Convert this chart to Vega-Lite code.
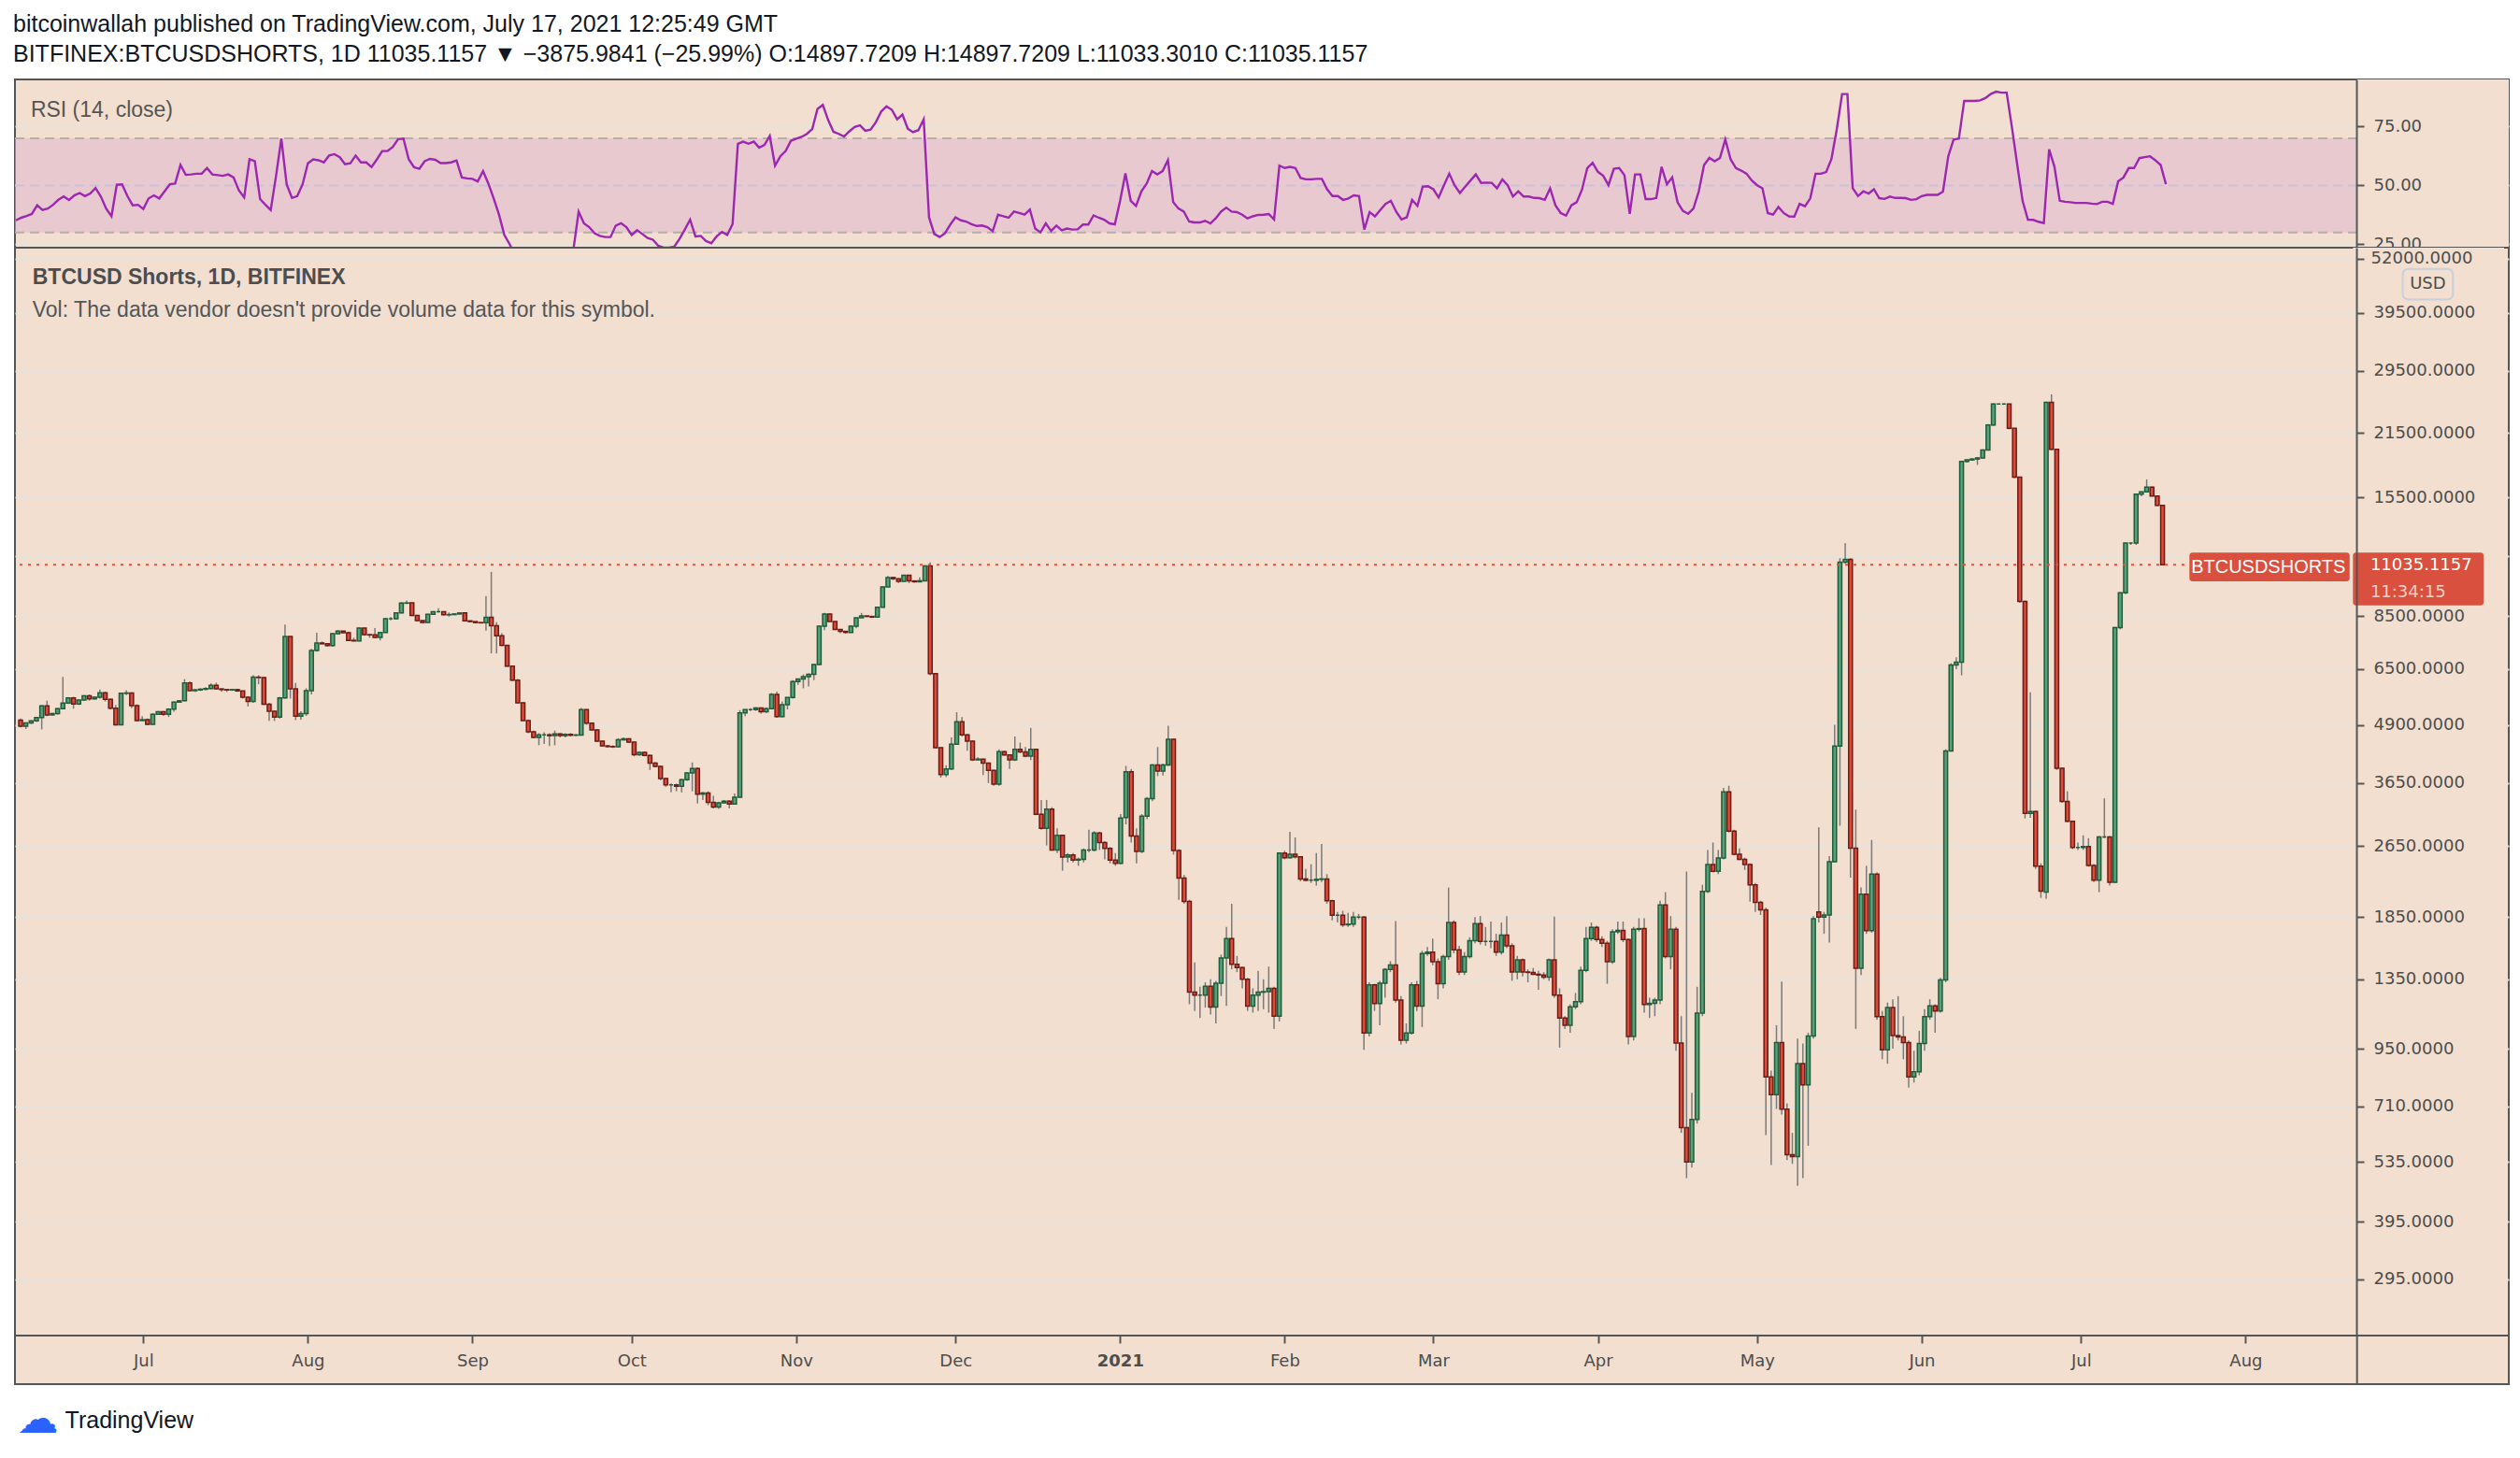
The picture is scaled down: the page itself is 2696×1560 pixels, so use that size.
{
"$schema": "https://vega.github.io/schema/vega-lite/v6.json",
"background": "#ffffff",
"padding": {"left": 14, "top": 14, "right": 0, "bottom": 0},
"bounds": "flush",
"spacing": 0,
"title": {"text": "bitcoinwallah published on TradingView.com, July 17, 2021 12:25:49 GMT", "subtitle": "BITFINEX:BTCUSDSHORTS, 1D  11035.1157 ▼ −3875.9841 (−25.99%)  O:14897.7209  H:14897.7209  L:11033.3010  C:11035.1157", "anchor": "start", "offset": 13, "font": "Liberation Sans", "fontSize": 25, "fontWeight": "normal", "color": "#131722", "subtitleFont": "Liberation Sans", "subtitleFontSize": 25, "subtitleColor": "#131722", "subtitlePadding": 7},
"config": {"view": {"fill": "#f2dfcf", "stroke": "#555555", "strokeWidth": 2}},
"datasets": {"c": [
{"d":"2020-06-07","o":5020,"h":5060,"l":4840,"c":4870,"r":35.2},
{"d":"2020-06-08","o":4870,"h":4960,"l":4800,"c":4947,"r":36.3},
{"d":"2020-06-09","o":4947,"h":5010,"l":4920,"c":5000,"r":37},
{"d":"2020-06-10","o":5000,"h":5100,"l":4970,"c":5088,"r":37.9},
{"d":"2020-06-11","o":5088,"h":5420,"l":4790,"c":5398,"r":41.6},
{"d":"2020-06-12","o":5398,"h":5540,"l":5120,"c":5155,"r":39.6},
{"d":"2020-06-13","o":5155,"h":5210,"l":5130,"c":5190,"r":40.2},
{"d":"2020-06-14","o":5190,"h":5340,"l":5160,"c":5320,"r":41.8},
{"d":"2020-06-15","o":5320,"h":6250,"l":5300,"c":5475,"r":43.9},
{"d":"2020-06-16","o":5475,"h":5640,"l":5450,"c":5615,"r":45.3},
{"d":"2020-06-17","o":5615,"h":5650,"l":5320,"c":5450,"r":43.8},
{"d":"2020-06-18","o":5450,"h":5580,"l":5420,"c":5560,"r":45.8},
{"d":"2020-06-19","o":5560,"h":5700,"l":5540,"c":5680,"r":46.8},
{"d":"2020-06-20","o":5680,"h":5720,"l":5540,"c":5590,"r":45.5},
{"d":"2020-06-21","o":5590,"h":5660,"l":5570,"c":5640,"r":46.6},
{"d":"2020-06-22","o":5640,"h":5860,"l":5600,"c":5765,"r":48.9},
{"d":"2020-06-23","o":5765,"h":5800,"l":5520,"c":5580,"r":45.3},
{"d":"2020-06-24","o":5580,"h":5600,"l":5300,"c":5330,"r":40.2},
{"d":"2020-06-25","o":5330,"h":5420,"l":4880,"c":4905,"r":36.9},
{"d":"2020-06-26","o":4905,"h":5770,"l":4890,"c":5750,"r":50.3},
{"d":"2020-06-27","o":5750,"h":5840,"l":5700,"c":5760,"r":50.5},
{"d":"2020-06-28","o":5760,"h":5780,"l":5330,"c":5400,"r":45.5},
{"d":"2020-06-29","o":5400,"h":5440,"l":4990,"c":5010,"r":41.6},
{"d":"2020-06-30","o":5010,"h":5120,"l":4990,"c":5030,"r":41.8},
{"d":"2020-07-01","o":5030,"h":5060,"l":4890,"c":4915,"r":40},
{"d":"2020-07-02","o":4915,"h":5200,"l":4900,"c":5170,"r":44.5},
{"d":"2020-07-03","o":5170,"h":5260,"l":5150,"c":5240,"r":45.8},
{"d":"2020-07-04","o":5240,"h":5260,"l":5130,"c":5170,"r":44.5},
{"d":"2020-07-05","o":5170,"h":5330,"l":5100,"c":5310,"r":47.5},
{"d":"2020-07-06","o":5310,"h":5520,"l":5240,"c":5500,"r":50.5},
{"d":"2020-07-07","o":5500,"h":5560,"l":5480,"c":5535,"r":50.8},
{"d":"2020-07-08","o":5535,"h":6180,"l":5520,"c":6060,"r":58.7},
{"d":"2020-07-09","o":6060,"h":6110,"l":5820,"c":5830,"r":54.5},
{"d":"2020-07-10","o":5830,"h":5880,"l":5790,"c":5850,"r":54.7},
{"d":"2020-07-11","o":5850,"h":5900,"l":5820,"c":5870,"r":55},
{"d":"2020-07-12","o":5870,"h":5930,"l":5840,"c":5890,"r":55},
{"d":"2020-07-13","o":5890,"h":6050,"l":5870,"c":5990,"r":57.4},
{"d":"2020-07-14","o":5990,"h":6070,"l":5860,"c":5880,"r":54.7},
{"d":"2020-07-15","o":5880,"h":5900,"l":5800,"c":5860,"r":54.4},
{"d":"2020-07-16","o":5860,"h":5880,"l":5790,"c":5850,"r":54.1},
{"d":"2020-07-17","o":5850,"h":5880,"l":5820,"c":5860,"r":54.7},
{"d":"2020-07-18","o":5860,"h":5870,"l":5790,"c":5820,"r":53.4},
{"d":"2020-07-19","o":5820,"h":5830,"l":5600,"c":5640,"r":47.9},
{"d":"2020-07-20","o":5640,"h":5660,"l":5380,"c":5520,"r":44.9},
{"d":"2020-07-21","o":5520,"h":6300,"l":5480,"c":6240,"r":61.1},
{"d":"2020-07-22","o":6240,"h":6300,"l":6020,"c":6230,"r":60.3},
{"d":"2020-07-23","o":6230,"h":6250,"l":5420,"c":5440,"r":44.2},
{"d":"2020-07-24","o":5440,"h":5480,"l":5000,"c":5250,"r":41.8},
{"d":"2020-07-25","o":5250,"h":5270,"l":5000,"c":5100,"r":39.6},
{"d":"2020-07-26","o":5100,"h":5650,"l":5060,"c":5620,"r":54},
{"d":"2020-07-27","o":5620,"h":8150,"l":5600,"c":7670,"r":69.9},
{"d":"2020-07-28","o":7670,"h":7680,"l":5600,"c":5880,"r":50.5},
{"d":"2020-07-29","o":5880,"h":6060,"l":5020,"c":5120,"r":44.7},
{"d":"2020-07-30","o":5120,"h":5250,"l":5030,"c":5190,"r":45.5},
{"d":"2020-07-31","o":5190,"h":5900,"l":5130,"c":5830,"r":50.5},
{"d":"2020-08-01","o":5830,"h":7200,"l":5720,"c":7140,"r":59.4},
{"d":"2020-08-02","o":7140,"h":7820,"l":7100,"c":7420,"r":61.1},
{"d":"2020-08-03","o":7420,"h":7480,"l":7370,"c":7390,"r":60.7},
{"d":"2020-08-04","o":7390,"h":7410,"l":7290,"c":7320,"r":59.8},
{"d":"2020-08-05","o":7320,"h":7800,"l":7280,"c":7780,"r":62.7},
{"d":"2020-08-06","o":7780,"h":7920,"l":7740,"c":7880,"r":63.3},
{"d":"2020-08-07","o":7880,"h":7890,"l":7800,"c":7820,"r":62},
{"d":"2020-08-08","o":7820,"h":7860,"l":7500,"c":7520,"r":59},
{"d":"2020-08-09","o":7520,"h":7620,"l":7480,"c":7500,"r":59.4},
{"d":"2020-08-10","o":7500,"h":8030,"l":7480,"c":8000,"r":62.7},
{"d":"2020-08-11","o":8000,"h":8010,"l":7700,"c":7740,"r":59.8},
{"d":"2020-08-12","o":7740,"h":7780,"l":7620,"c":7730,"r":59.8},
{"d":"2020-08-13","o":7730,"h":8000,"l":7600,"c":7630,"r":57.8},
{"d":"2020-08-14","o":7630,"h":7850,"l":7520,"c":7830,"r":61.1},
{"d":"2020-08-15","o":7830,"h":8420,"l":7810,"c":8390,"r":64.6},
{"d":"2020-08-16","o":8390,"h":8460,"l":8320,"c":8390,"r":64.6},
{"d":"2020-08-17","o":8390,"h":8660,"l":8370,"c":8640,"r":66.4},
{"d":"2020-08-18","o":8640,"h":9120,"l":8620,"c":9080,"r":69.7},
{"d":"2020-08-19","o":9080,"h":9200,"l":9040,"c":9090,"r":69.9},
{"d":"2020-08-20","o":9090,"h":9100,"l":8500,"c":8530,"r":61.1},
{"d":"2020-08-21","o":8530,"h":8560,"l":8280,"c":8310,"r":57.7},
{"d":"2020-08-22","o":8310,"h":8330,"l":8200,"c":8230,"r":57.1},
{"d":"2020-08-23","o":8230,"h":8600,"l":8220,"c":8580,"r":60.3},
{"d":"2020-08-24","o":8580,"h":8720,"l":8560,"c":8690,"r":61.3},
{"d":"2020-08-25","o":8690,"h":8850,"l":8660,"c":8690,"r":60.9},
{"d":"2020-08-26","o":8690,"h":8700,"l":8540,"c":8560,"r":59.5},
{"d":"2020-08-27","o":8560,"h":8660,"l":8480,"c":8570,"r":59.5},
{"d":"2020-08-28","o":8570,"h":8620,"l":8560,"c":8595,"r":59.8},
{"d":"2020-08-29","o":8595,"h":8660,"l":8580,"c":8640,"r":60.6},
{"d":"2020-08-30","o":8640,"h":8650,"l":8280,"c":8300,"r":53.4},
{"d":"2020-08-31","o":8300,"h":8310,"l":8240,"c":8270,"r":53},
{"d":"2020-09-01","o":8270,"h":8280,"l":8200,"c":8230,"r":52.8},
{"d":"2020-09-02","o":8230,"h":8240,"l":8190,"c":8220,"r":51.7},
{"d":"2020-09-03","o":8220,"h":9410,"l":7900,"c":8450,"r":56.1},
{"d":"2020-09-04","o":8450,"h":10640,"l":7040,"c":8100,"r":50.8},
{"d":"2020-09-05","o":8100,"h":8250,"l":7040,"c":7700,"r":44.5},
{"d":"2020-09-06","o":7700,"h":7800,"l":7300,"c":7330,"r":37.6},
{"d":"2020-09-07","o":7330,"h":7340,"l":6580,"c":6600,"r":29},
{"d":"2020-09-08","o":6600,"h":6620,"l":6120,"c":6150,"r":25.1},
{"d":"2020-09-09","o":6150,"h":6180,"l":5460,"c":5480,"r":20.5},
{"d":"2020-09-10","o":5480,"h":5500,"l":4990,"c":5010,"r":17},
{"d":"2020-09-11","o":5010,"h":5040,"l":4700,"c":4730,"r":15},
{"d":"2020-09-12","o":4730,"h":4760,"l":4580,"c":4600,"r":14},
{"d":"2020-09-13","o":4600,"h":4700,"l":4420,"c":4660,"r":16},
{"d":"2020-09-14","o":4660,"h":4720,"l":4450,"c":4660,"r":17},
{"d":"2020-09-15","o":4660,"h":4700,"l":4400,"c":4640,"r":17.5},
{"d":"2020-09-16","o":4640,"h":4760,"l":4420,"c":4680,"r":19},
{"d":"2020-09-17","o":4680,"h":4700,"l":4600,"c":4640,"r":19.5},
{"d":"2020-09-18","o":4640,"h":4700,"l":4600,"c":4670,"r":21},
{"d":"2020-09-19","o":4670,"h":4700,"l":4620,"c":4650,"r":22},
{"d":"2020-09-20","o":4650,"h":4680,"l":4630,"c":4655,"r":22.5},
{"d":"2020-09-21","o":4655,"h":5340,"l":4640,"c":5295,"r":38.9},
{"d":"2020-09-22","o":5295,"h":5310,"l":4900,"c":4945,"r":33.9},
{"d":"2020-09-23","o":4945,"h":4960,"l":4760,"c":4778,"r":32.3},
{"d":"2020-09-24","o":4778,"h":4800,"l":4490,"c":4513,"r":29.7},
{"d":"2020-09-25","o":4513,"h":4530,"l":4390,"c":4405,"r":28.6},
{"d":"2020-09-26","o":4405,"h":4420,"l":4370,"c":4390,"r":28.1},
{"d":"2020-09-27","o":4390,"h":4420,"l":4360,"c":4385,"r":28.1},
{"d":"2020-09-28","o":4385,"h":4580,"l":4370,"c":4543,"r":33},
{"d":"2020-09-29","o":4543,"h":4600,"l":4530,"c":4565,"r":34},
{"d":"2020-09-30","o":4565,"h":4580,"l":4470,"c":4490,"r":32.3},
{"d":"2020-10-01","o":4490,"h":4500,"l":4180,"c":4211,"r":29},
{"d":"2020-10-02","o":4211,"h":4280,"l":4190,"c":4265,"r":31},
{"d":"2020-10-03","o":4265,"h":4280,"l":4180,"c":4200,"r":29.4},
{"d":"2020-10-04","o":4200,"h":4210,"l":3900,"c":4035,"r":27.7},
{"d":"2020-10-05","o":4035,"h":4060,"l":3950,"c":3970,"r":27},
{"d":"2020-10-06","o":3970,"h":3990,"l":3700,"c":3733,"r":24.4},
{"d":"2020-10-07","o":3733,"h":3750,"l":3580,"c":3615,"r":23.6},
{"d":"2020-10-08","o":3615,"h":3640,"l":3480,"c":3615,"r":23.6},
{"d":"2020-10-09","o":3615,"h":3640,"l":3500,"c":3590,"r":24},
{"d":"2020-10-10","o":3590,"h":3730,"l":3480,"c":3710,"r":27.3},
{"d":"2020-10-11","o":3710,"h":3860,"l":3690,"c":3842,"r":31.3},
{"d":"2020-10-12","o":3842,"h":4050,"l":3500,"c":3930,"r":35.5},
{"d":"2020-10-13","o":3930,"h":3950,"l":3290,"c":3450,"r":28.4},
{"d":"2020-10-14","o":3450,"h":3490,"l":3350,"c":3470,"r":28.6},
{"d":"2020-10-15","o":3470,"h":3500,"l":3260,"c":3310,"r":26.4},
{"d":"2020-10-16","o":3310,"h":3420,"l":3210,"c":3230,"r":25.5},
{"d":"2020-10-17","o":3230,"h":3320,"l":3200,"c":3300,"r":28.4},
{"d":"2020-10-18","o":3300,"h":3350,"l":3290,"c":3330,"r":30.3},
{"d":"2020-10-19","o":3330,"h":3350,"l":3210,"c":3280,"r":29},
{"d":"2020-10-20","o":3280,"h":3460,"l":3270,"c":3395,"r":33.6},
{"d":"2020-10-21","o":3395,"h":5280,"l":3390,"c":5205,"r":67.7},
{"d":"2020-10-22","o":5205,"h":5310,"l":5120,"c":5295,"r":68.6},
{"d":"2020-10-23","o":5295,"h":5330,"l":5260,"c":5295,"r":67.7},
{"d":"2020-10-24","o":5295,"h":5360,"l":5260,"c":5340,"r":68.6},
{"d":"2020-10-25","o":5340,"h":5350,"l":5190,"c":5240,"r":66},
{"d":"2020-10-26","o":5240,"h":5360,"l":5200,"c":5320,"r":67.2},
{"d":"2020-10-27","o":5320,"h":5760,"l":5300,"c":5720,"r":71},
{"d":"2020-10-28","o":5720,"h":5800,"l":5080,"c":5107,"r":58.4},
{"d":"2020-10-29","o":5107,"h":5520,"l":5090,"c":5425,"r":62.4},
{"d":"2020-10-30","o":5425,"h":5640,"l":5300,"c":5634,"r":64.6},
{"d":"2020-10-31","o":5634,"h":6150,"l":5600,"c":6106,"r":69},
{"d":"2020-11-01","o":6106,"h":6200,"l":6000,"c":6180,"r":69.9},
{"d":"2020-11-02","o":6180,"h":6330,"l":5900,"c":6260,"r":70.6},
{"d":"2020-11-03","o":6260,"h":6360,"l":5950,"c":6330,"r":71.9},
{"d":"2020-11-04","o":6330,"h":6680,"l":6150,"c":6650,"r":73.9},
{"d":"2020-11-05","o":6650,"h":8110,"l":6630,"c":8080,"r":82.5},
{"d":"2020-11-06","o":8080,"h":8640,"l":7920,"c":8595,"r":84.2},
{"d":"2020-11-07","o":8595,"h":8620,"l":8260,"c":8275,"r":77.8},
{"d":"2020-11-08","o":8275,"h":8290,"l":7930,"c":7950,"r":72.8},
{"d":"2020-11-09","o":7950,"h":7960,"l":7800,"c":7870,"r":71.9},
{"d":"2020-11-10","o":7870,"h":7880,"l":7780,"c":7830,"r":70.8},
{"d":"2020-11-11","o":7830,"h":8120,"l":7820,"c":8080,"r":73},
{"d":"2020-11-12","o":8080,"h":8440,"l":7990,"c":8430,"r":74.8},
{"d":"2020-11-13","o":8430,"h":8640,"l":8420,"c":8510,"r":75.5},
{"d":"2020-11-14","o":8510,"h":8530,"l":8460,"c":8490,"r":73.2},
{"d":"2020-11-15","o":8490,"h":8510,"l":8440,"c":8460,"r":73.7},
{"d":"2020-11-16","o":8460,"h":8900,"l":8440,"c":8890,"r":76.9},
{"d":"2020-11-17","o":8890,"h":9900,"l":8880,"c":9862,"r":81.4},
{"d":"2020-11-18","o":9862,"h":10420,"l":9850,"c":10340,"r":83.6},
{"d":"2020-11-19","o":10340,"h":10360,"l":10200,"c":10280,"r":82.1},
{"d":"2020-11-20","o":10280,"h":10300,"l":10050,"c":10140,"r":78.1},
{"d":"2020-11-21","o":10140,"h":10480,"l":10120,"c":10460,"r":80.1},
{"d":"2020-11-22","o":10460,"h":10470,"l":10050,"c":10160,"r":74.1},
{"d":"2020-11-23","o":10160,"h":10200,"l":10080,"c":10120,"r":72.6},
{"d":"2020-11-24","o":10120,"h":10350,"l":10100,"c":10170,"r":73.5},
{"d":"2020-11-25","o":10170,"h":11000,"l":10150,"c":10965,"r":78.1},
{"d":"2020-11-26","o":10965,"h":11160,"l":6300,"c":6353,"r":36.5},
{"d":"2020-11-27","o":6353,"h":6360,"l":4350,"c":4367,"r":29.4},
{"d":"2020-11-28","o":4367,"h":4380,"l":3750,"c":3810,"r":28.1},
{"d":"2020-11-29","o":3810,"h":3990,"l":3760,"c":3920,"r":29.7},
{"d":"2020-11-30","o":3920,"h":4600,"l":3900,"c":4443,"r":33.4},
{"d":"2020-12-01","o":4443,"h":5225,"l":4430,"c":4979,"r":36.5},
{"d":"2020-12-02","o":4979,"h":5100,"l":4620,"c":4660,"r":35.2},
{"d":"2020-12-03","o":4660,"h":4680,"l":4300,"c":4513,"r":34.7},
{"d":"2020-12-04","o":4513,"h":4530,"l":4080,"c":4105,"r":33.6},
{"d":"2020-12-05","o":4105,"h":4160,"l":4090,"c":4120,"r":32.8},
{"d":"2020-12-06","o":4120,"h":4130,"l":3800,"c":4035,"r":33},
{"d":"2020-12-07","o":4035,"h":4050,"l":3650,"c":3890,"r":32.3},
{"d":"2020-12-08","o":3890,"h":3900,"l":3600,"c":3628,"r":30.6},
{"d":"2020-12-09","o":3628,"h":4330,"l":3600,"c":4277,"r":37.6},
{"d":"2020-12-10","o":4277,"h":4300,"l":4190,"c":4210,"r":36.9},
{"d":"2020-12-11","o":4210,"h":4220,"l":3920,"c":4105,"r":36.3},
{"d":"2020-12-12","o":4105,"h":4620,"l":4080,"c":4330,"r":38.9},
{"d":"2020-12-13","o":4330,"h":4480,"l":4250,"c":4275,"r":38.3},
{"d":"2020-12-14","o":4275,"h":4380,"l":4160,"c":4185,"r":37.6},
{"d":"2020-12-15","o":4185,"h":4825,"l":4100,"c":4330,"r":39.8},
{"d":"2020-12-16","o":4330,"h":4340,"l":3100,"c":3117,"r":31.7},
{"d":"2020-12-17","o":3117,"h":3350,"l":2880,"c":2903,"r":30.1},
{"d":"2020-12-18","o":2903,"h":3350,"l":2660,"c":3196,"r":33.9},
{"d":"2020-12-19","o":3196,"h":3230,"l":2590,"c":2598,"r":30.7},
{"d":"2020-12-20","o":2598,"h":2900,"l":2560,"c":2799,"r":33},
{"d":"2020-12-21","o":2799,"h":2810,"l":2340,"c":2509,"r":31},
{"d":"2020-12-22","o":2509,"h":2560,"l":2440,"c":2535,"r":31.7},
{"d":"2020-12-23","o":2535,"h":2560,"l":2440,"c":2470,"r":31.3},
{"d":"2020-12-24","o":2470,"h":2500,"l":2400,"c":2480,"r":31.4},
{"d":"2020-12-25","o":2480,"h":2620,"l":2440,"c":2598,"r":33.4},
{"d":"2020-12-26","o":2598,"h":2880,"l":2570,"c":2598,"r":33.4},
{"d":"2020-12-27","o":2598,"h":2860,"l":2580,"c":2835,"r":37.3},
{"d":"2020-12-28","o":2835,"h":2850,"l":2600,"c":2700,"r":36.3},
{"d":"2020-12-29","o":2700,"h":2720,"l":2480,"c":2620,"r":35.5},
{"d":"2020-12-30","o":2620,"h":2640,"l":2430,"c":2470,"r":33.9},
{"d":"2020-12-31","o":2470,"h":2560,"l":2400,"c":2430,"r":33.5},
{"d":"2021-01-01","o":2430,"h":3120,"l":2420,"c":3058,"r":43.5},
{"d":"2021-01-02","o":3063,"h":3980,"l":2960,"c":3864,"r":55.1},
{"d":"2021-01-03","o":3864,"h":3920,"l":2700,"c":2790,"r":43.5},
{"d":"2021-01-04","o":2790,"h":2900,"l":2430,"c":2580,"r":41.3},
{"d":"2021-01-05","o":2580,"h":3120,"l":2560,"c":3084,"r":47.5},
{"d":"2021-01-06","o":3084,"h":3400,"l":3040,"c":3374,"r":50.8},
{"d":"2021-01-07","o":3374,"h":4020,"l":3330,"c":3997,"r":56.1},
{"d":"2021-01-08","o":3997,"h":4380,"l":3780,"c":3876,"r":54.7},
{"d":"2021-01-09","o":3876,"h":4030,"l":3790,"c":3997,"r":56.1},
{"d":"2021-01-10","o":3997,"h":4880,"l":3980,"c":4555,"r":60.7},
{"d":"2021-01-11","o":4555,"h":4560,"l":2540,"c":2594,"r":42.9},
{"d":"2021-01-12","o":2594,"h":2610,"l":2020,"c":2256,"r":40.2},
{"d":"2021-01-13","o":2256,"h":2290,"l":1980,"c":2004,"r":38.9},
{"d":"2021-01-14","o":2004,"h":2020,"l":1190,"c":1265,"r":34.7},
{"d":"2021-01-15","o":1265,"h":1470,"l":1150,"c":1246,"r":34.3},
{"d":"2021-01-16","o":1246,"h":1300,"l":1110,"c":1246,"r":34.3},
{"d":"2021-01-17","o":1246,"h":1330,"l":1170,"c":1304,"r":35},
{"d":"2021-01-18","o":1304,"h":1350,"l":1130,"c":1173,"r":33.9},
{"d":"2021-01-19","o":1173,"h":1340,"l":1080,"c":1323,"r":36},
{"d":"2021-01-20","o":1323,"h":1530,"l":1240,"c":1504,"r":38.9},
{"d":"2021-01-21","o":1504,"h":1760,"l":1180,"c":1660,"r":40.6},
{"d":"2021-01-22","o":1660,"h":1980,"l":1420,"c":1457,"r":38.9},
{"d":"2021-01-23","o":1457,"h":1520,"l":1400,"c":1433,"r":38.7},
{"d":"2021-01-24","o":1433,"h":1440,"l":1290,"c":1350,"r":37.6},
{"d":"2021-01-25","o":1350,"h":1360,"l":1150,"c":1178,"r":36},
{"d":"2021-01-26","o":1178,"h":1290,"l":1140,"c":1246,"r":36.9},
{"d":"2021-01-27","o":1246,"h":1410,"l":1150,"c":1265,"r":37.5},
{"d":"2021-01-28","o":1265,"h":1350,"l":1160,"c":1268,"r":37.6},
{"d":"2021-01-29","o":1268,"h":1440,"l":1140,"c":1290,"r":37.9},
{"d":"2021-01-30","o":1290,"h":1300,"l":1050,"c":1120,"r":35.6},
{"d":"2021-01-31","o":1120,"h":2560,"l":1090,"c":2558,"r":58.4},
{"d":"2021-02-01","o":2558,"h":2590,"l":2480,"c":2500,"r":57.4},
{"d":"2021-02-02","o":2500,"h":2850,"l":2490,"c":2545,"r":57.9},
{"d":"2021-02-03","o":2545,"h":2770,"l":2490,"c":2510,"r":57.4},
{"d":"2021-02-04","o":2510,"h":2520,"l":2220,"c":2245,"r":53.2},
{"d":"2021-02-05","o":2245,"h":2360,"l":2220,"c":2230,"r":52.6},
{"d":"2021-02-06","o":2230,"h":2420,"l":2200,"c":2230,"r":52.6},
{"d":"2021-02-07","o":2230,"h":2560,"l":2170,"c":2240,"r":52.8},
{"d":"2021-02-08","o":2240,"h":2680,"l":2210,"c":2245,"r":52.8},
{"d":"2021-02-09","o":2245,"h":2300,"l":1980,"c":2011,"r":48.4},
{"d":"2021-02-10","o":2011,"h":2020,"l":1820,"c":1869,"r":45.5},
{"d":"2021-02-11","o":1869,"h":1900,"l":1800,"c":1869,"r":45.5},
{"d":"2021-02-12","o":1869,"h":1910,"l":1760,"c":1780,"r":43.9},
{"d":"2021-02-13","o":1780,"h":1890,"l":1760,"c":1785,"r":44.5},
{"d":"2021-02-14","o":1785,"h":1900,"l":1760,"c":1850,"r":45.8},
{"d":"2021-02-15","o":1850,"h":1880,"l":1830,"c":1850,"r":45.5},
{"d":"2021-02-16","o":1850,"h":1860,"l":945,"c":1029,"r":31.3},
{"d":"2021-02-17","o":1029,"h":1330,"l":1010,"c":1313,"r":38.7},
{"d":"2021-02-18","o":1313,"h":1320,"l":1150,"c":1194,"r":36.9},
{"d":"2021-02-19","o":1194,"h":1340,"l":1070,"c":1323,"r":39.6},
{"d":"2021-02-20","o":1323,"h":1430,"l":1230,"c":1420,"r":42.2},
{"d":"2021-02-21","o":1420,"h":1480,"l":1400,"c":1452,"r":43.5},
{"d":"2021-02-22","o":1452,"h":1814,"l":1200,"c":1215,"r":38.9},
{"d":"2021-02-23","o":1215,"h":1240,"l":970,"c":991,"r":35.6},
{"d":"2021-02-24","o":991,"h":1080,"l":975,"c":1029,"r":36.5},
{"d":"2021-02-25","o":1029,"h":1330,"l":1020,"c":1313,"r":43.9},
{"d":"2021-02-26","o":1313,"h":1340,"l":1150,"c":1178,"r":41.3},
{"d":"2021-02-27","o":1178,"h":1560,"l":1060,"c":1538,"r":49.5},
{"d":"2021-02-28","o":1538,"h":1590,"l":1520,"c":1550,"r":49.7},
{"d":"2021-03-01","o":1550,"h":1660,"l":1450,"c":1476,"r":48.4},
{"d":"2021-03-02","o":1476,"h":1500,"l":1220,"c":1320,"r":44.9},
{"d":"2021-03-03","o":1320,"h":1530,"l":1290,"c":1514,"r":50.1},
{"d":"2021-03-04","o":1514,"h":2149,"l":1490,"c":1801,"r":55},
{"d":"2021-03-05","o":1801,"h":1820,"l":1540,"c":1567,"r":50.1},
{"d":"2021-03-06","o":1567,"h":1600,"l":1380,"c":1401,"r":46.8},
{"d":"2021-03-07","o":1401,"h":1550,"l":1380,"c":1514,"r":49.5},
{"d":"2021-03-08","o":1514,"h":1670,"l":1500,"c":1641,"r":52.1},
{"d":"2021-03-09","o":1641,"h":1850,"l":1620,"c":1791,"r":54.7},
{"d":"2021-03-10","o":1791,"h":1860,"l":1610,"c":1636,"r":51.1},
{"d":"2021-03-11","o":1636,"h":1760,"l":1600,"c":1636,"r":51.2},
{"d":"2021-03-12","o":1636,"h":1810,"l":1580,"c":1636,"r":51.1},
{"d":"2021-03-13","o":1636,"h":1700,"l":1520,"c":1550,"r":48.8},
{"d":"2021-03-14","o":1550,"h":1800,"l":1530,"c":1689,"r":52.6},
{"d":"2021-03-15","o":1689,"h":1860,"l":1580,"c":1600,"r":50.1},
{"d":"2021-03-16","o":1600,"h":1620,"l":1340,"c":1401,"r":45.3},
{"d":"2021-03-17","o":1401,"h":1520,"l":1350,"c":1490,"r":47.5},
{"d":"2021-03-18","o":1490,"h":1500,"l":1370,"c":1401,"r":45.3},
{"d":"2021-03-19","o":1401,"h":1420,"l":1330,"c":1398,"r":45.3},
{"d":"2021-03-20","o":1398,"h":1430,"l":1380,"c":1385,"r":44.7},
{"d":"2021-03-21","o":1385,"h":1410,"l":1280,"c":1380,"r":44.6},
{"d":"2021-03-22","o":1380,"h":1400,"l":1350,"c":1365,"r":43.9},
{"d":"2021-03-23","o":1365,"h":1500,"l":1340,"c":1490,"r":48.8},
{"d":"2021-03-24","o":1490,"h":1854,"l":1230,"c":1246,"r":41.6},
{"d":"2021-03-25","o":1246,"h":1290,"l":955,"c":1110,"r":38.3},
{"d":"2021-03-26","o":1110,"h":1120,"l":1050,"c":1070,"r":37.2},
{"d":"2021-03-27","o":1070,"h":1190,"l":1030,"c":1175,"r":41.6},
{"d":"2021-03-28","o":1175,"h":1260,"l":1160,"c":1206,"r":42.9},
{"d":"2021-03-29","o":1206,"h":1440,"l":1190,"c":1413,"r":48.2},
{"d":"2021-03-30","o":1413,"h":1760,"l":1400,"c":1660,"r":57.4},
{"d":"2021-03-31","o":1660,"h":1800,"l":1640,"c":1756,"r":59.6},
{"d":"2021-04-01","o":1756,"h":1770,"l":1630,"c":1652,"r":55.8},
{"d":"2021-04-02","o":1652,"h":1680,"l":1590,"c":1620,"r":54.1},
{"d":"2021-04-03","o":1620,"h":1640,"l":1320,"c":1476,"r":50.1},
{"d":"2021-04-04","o":1476,"h":1740,"l":1460,"c":1718,"r":57.1},
{"d":"2021-04-05","o":1718,"h":1810,"l":1700,"c":1730,"r":57.4},
{"d":"2021-04-06","o":1730,"h":1810,"l":1630,"c":1652,"r":54.4},
{"d":"2021-04-07","o":1652,"h":1660,"l":970,"c":1011,"r":37.9},
{"d":"2021-04-08","o":1011,"h":1760,"l":990,"c":1740,"r":54.7},
{"d":"2021-04-09","o":1740,"h":1840,"l":1720,"c":1745,"r":54.7},
{"d":"2021-04-10","o":1745,"h":1840,"l":1140,"c":1188,"r":44.2},
{"d":"2021-04-11","o":1188,"h":1230,"l":1110,"c":1195,"r":44.2},
{"d":"2021-04-12","o":1195,"h":1230,"l":1120,"c":1215,"r":44.7},
{"d":"2021-04-13","o":1215,"h":2010,"l":1190,"c":1967,"r":57.9},
{"d":"2021-04-14","o":1967,"h":2100,"l":1500,"c":1514,"r":50.5},
{"d":"2021-04-15","o":1514,"h":1860,"l":1420,"c":1740,"r":53.4},
{"d":"2021-04-16","o":1740,"h":1760,"l":940,"c":977,"r":42.9},
{"d":"2021-04-17","o":977,"h":1120,"l":620,"c":637,"r":39.2},
{"d":"2021-04-18","o":637,"h":2330,"l":493,"c":535,"r":38},
{"d":"2021-04-19","o":535,"h":760,"l":520,"c":664,"r":40.2},
{"d":"2021-04-20","o":664,"h":1300,"l":650,"c":1137,"r":47.5},
{"d":"2021-04-21","o":1137,"h":2180,"l":1120,"c":2107,"r":58.7},
{"d":"2021-04-22","o":2107,"h":2600,"l":2090,"c":2416,"r":61.7},
{"d":"2021-04-23","o":2416,"h":2700,"l":2320,"c":2333,"r":60.3},
{"d":"2021-04-24","o":2333,"h":2600,"l":2300,"c":2497,"r":61.7},
{"d":"2021-04-25","o":2497,"h":3560,"l":2480,"c":3490,"r":69.5},
{"d":"2021-04-26","o":3490,"h":3600,"l":2840,"c":2860,"r":61.1},
{"d":"2021-04-27","o":2860,"h":2880,"l":2530,"c":2543,"r":57.4},
{"d":"2021-04-28","o":2543,"h":2620,"l":2470,"c":2480,"r":56.3},
{"d":"2021-04-29","o":2480,"h":2500,"l":2350,"c":2416,"r":55},
{"d":"2021-04-30","o":2416,"h":2430,"l":2000,"c":2178,"r":52.1},
{"d":"2021-05-01","o":2178,"h":2200,"l":1900,"c":1993,"r":50.1},
{"d":"2021-05-02","o":1993,"h":2010,"l":1870,"c":1920,"r":48.8},
{"d":"2021-05-03","o":1920,"h":1940,"l":613,"c":823,"r":38.3},
{"d":"2021-05-04","o":823,"h":850,"l":527,"c":752,"r":37.6},
{"d":"2021-05-05","o":752,"h":1070,"l":700,"c":980,"r":40.9},
{"d":"2021-05-06","o":980,"h":1335,"l":680,"c":699,"r":38.3},
{"d":"2021-05-07","o":699,"h":720,"l":540,"c":555,"r":36.9},
{"d":"2021-05-08","o":555,"h":620,"l":530,"c":550,"r":36.8},
{"d":"2021-05-09","o":550,"h":1000,"l":474,"c":881,"r":42.2},
{"d":"2021-05-10","o":881,"h":975,"l":493,"c":791,"r":41.2},
{"d":"2021-05-11","o":791,"h":1030,"l":581,"c":1013,"r":44.5},
{"d":"2021-05-12","o":1013,"h":1860,"l":1000,"c":1834,"r":55},
{"d":"2021-05-13","o":1900,"h":2915,"l":1800,"c":1850,"r":55},
{"d":"2021-05-14","o":1850,"h":1900,"l":1700,"c":1870,"r":55.7},
{"d":"2021-05-15","o":1870,"h":2520,"l":1627,"c":2449,"r":61.3},
{"d":"2021-05-16","o":2449,"h":4900,"l":2440,"c":4400,"r":73.9},
{"d":"2021-05-17","o":4400,"h":11400,"l":2940,"c":11180,"r":88.8},
{"d":"2021-05-18","o":11180,"h":12300,"l":11100,"c":11330,"r":88.8},
{"d":"2021-05-19","o":11330,"h":11400,"l":2260,"c":2623,"r":48.8},
{"d":"2021-05-20","o":2623,"h":3190,"l":1050,"c":1428,"r":45.5},
{"d":"2021-05-21","o":1428,"h":2150,"l":1380,"c":2079,"r":47.5},
{"d":"2021-05-22","o":2079,"h":2400,"l":1700,"c":1728,"r":46.6},
{"d":"2021-05-23","o":1728,"h":2735,"l":1710,"c":2300,"r":48.4},
{"d":"2021-05-24","o":2300,"h":2320,"l":1100,"c":1118,"r":44.6},
{"d":"2021-05-25","o":1118,"h":1150,"l":900,"c":944,"r":44.3},
{"d":"2021-05-26","o":944,"h":1200,"l":880,"c":1170,"r":45.3},
{"d":"2021-05-27","o":1170,"h":1220,"l":950,"c":1015,"r":44.7},
{"d":"2021-05-28","o":1015,"h":1240,"l":990,"c":1008,"r":44.7},
{"d":"2021-05-29","o":1008,"h":1120,"l":900,"c":980,"r":44.6},
{"d":"2021-05-30","o":980,"h":990,"l":780,"c":823,"r":43.9},
{"d":"2021-05-31","o":823,"h":940,"l":800,"c":845,"r":44.2},
{"d":"2021-06-01","o":845,"h":1040,"l":830,"c":975,"r":45.5},
{"d":"2021-06-02","o":975,"h":1160,"l":940,"c":1118,"r":46},
{"d":"2021-06-03","o":1118,"h":1220,"l":1100,"c":1180,"r":46},
{"d":"2021-06-04","o":1180,"h":1190,"l":1030,"c":1150,"r":46},
{"d":"2021-06-05","o":1150,"h":1360,"l":1140,"c":1345,"r":47.4},
{"d":"2021-06-06","o":1345,"h":4330,"l":1330,"c":4294,"r":62.4},
{"d":"2021-06-07","o":4294,"h":6700,"l":4280,"c":6641,"r":69.5},
{"d":"2021-06-08","o":6641,"h":6900,"l":6500,"c":6730,"r":69.9},
{"d":"2021-06-09","o":6730,"h":18700,"l":6300,"c":18610,"r":85.9},
{"d":"2021-06-10","o":18610,"h":18800,"l":18500,"c":18760,"r":85.9},
{"d":"2021-06-11","o":18760,"h":18900,"l":18700,"c":18850,"r":85.9},
{"d":"2021-06-12","o":18850,"h":19000,"l":18300,"c":18950,"r":86.1},
{"d":"2021-06-13","o":18950,"h":19800,"l":18900,"c":19730,"r":87.1},
{"d":"2021-06-14","o":19730,"h":22500,"l":19700,"c":22400,"r":88.8},
{"d":"2021-06-15","o":22400,"h":25000,"l":22300,"c":24910,"r":89.8},
{"d":"2021-06-16","o":24910,"h":24950,"l":24850,"c":24910,"r":89.4},
{"d":"2021-06-17","o":24910,"h":24960,"l":24800,"c":24910,"r":89.4},
{"d":"2021-06-18","o":24910,"h":24950,"l":21900,"c":22030,"r":74.5},
{"d":"2021-06-19","o":22030,"h":22050,"l":17100,"c":17190,"r":58.7},
{"d":"2021-06-20","o":17190,"h":17200,"l":9100,"c":9160,"r":43.5},
{"d":"2021-06-21","o":9160,"h":9200,"l":3050,"c":3130,"r":35.5},
{"d":"2021-06-22","o":3130,"h":5780,"l":3060,"c":3160,"r":35.4},
{"d":"2021-06-23","o":3160,"h":3170,"l":2360,"c":2395,"r":34.6},
{"d":"2021-06-24","o":2395,"h":2430,"l":2040,"c":2110,"r":34},
{"d":"2021-06-25","o":2100,"h":25200,"l":2030,"c":25110,"r":65.3},
{"d":"2021-06-26","o":25110,"h":26150,"l":19700,"c":19810,"r":58},
{"d":"2021-06-27","o":19810,"h":19850,"l":3900,"c":3935,"r":43.5},
{"d":"2021-06-28","o":3935,"h":3940,"l":3300,"c":3324,"r":43.1},
{"d":"2021-06-29","o":3324,"h":3500,"l":2990,"c":3008,"r":42.9},
{"d":"2021-06-30","o":3008,"h":3010,"l":2610,"c":2633,"r":42.6},
{"d":"2021-07-01","o":2633,"h":2700,"l":2600,"c":2633,"r":42.6},
{"d":"2021-07-02","o":2633,"h":2800,"l":2600,"c":2645,"r":42.6},
{"d":"2021-07-03","o":2645,"h":2760,"l":2390,"c":2405,"r":42.3},
{"d":"2021-07-04","o":2405,"h":2420,"l":2210,"c":2232,"r":42.1},
{"d":"2021-07-05","o":2232,"h":2790,"l":2100,"c":2776,"r":43.1},
{"d":"2021-07-06","o":2776,"h":3377,"l":2760,"c":2776,"r":43.1},
{"d":"2021-07-07","o":2776,"h":2790,"l":2170,"c":2206,"r":42.2},
{"d":"2021-07-08","o":2206,"h":8050,"l":2200,"c":8020,"r":51.8},
{"d":"2021-07-09","o":8020,"h":9600,"l":7950,"c":9575,"r":53.4},
{"d":"2021-07-10","o":9575,"h":12330,"l":9500,"c":12310,"r":57.4},
{"d":"2021-07-11","o":12310,"h":12340,"l":12200,"c":12310,"r":57.4},
{"d":"2021-07-12","o":12310,"h":15800,"l":12200,"c":15770,"r":61.6},
{"d":"2021-07-13","o":15770,"h":16000,"l":15600,"c":15960,"r":62},
{"d":"2021-07-14","o":15960,"h":17000,"l":15900,"c":16350,"r":62.4},
{"d":"2021-07-15","o":16350,"h":16400,"l":15600,"c":15620,"r":60.7},
{"d":"2021-07-16","o":15620,"h":15650,"l":14850,"c":14897.7209,"r":58.7},
{"d":"2021-07-17","o":14897.7209,"h":14897.7209,"l":11033.301,"c":11035.1157,"r":50.5}
]},
"vconcat": [
{
"width": 2668, "height": 180,
"resolve": {"axis": {"y": "independent"}},
"layer": [
{"data": {"values": [{}]}, "mark": {"type": "rect", "fill": "#deb3d1", "opacity": 0.5},
 "encoding": {
  "x": {"datum": {"year":2020,"month":6,"date":6,"hours":19,"minutes":40,"utc":true}, "type": "temporal",
        "scale": {"type": "utc", "domain": [{"year":2020,"month":6,"date":6,"hours":19,"minutes":40,"utc":true},{"year":2021,"month":9,"date":19,"hours":14,"utc":true}]},
        "axis": {"orient": "bottom", "values": [{"year":2020,"month":7,"date":1,"utc":true},{"year":2020,"month":8,"date":1,"utc":true},{"year":2020,"month":9,"date":1,"utc":true},{"year":2020,"month":10,"date":1,"utc":true},{"year":2020,"month":11,"date":1,"utc":true},{"year":2020,"month":12,"date":1,"utc":true},{"year":2021,"month":1,"date":1,"utc":true},{"year":2021,"month":2,"date":1,"utc":true},{"year":2021,"month":3,"date":1,"utc":true},{"year":2021,"month":4,"date":1,"utc":true},{"year":2021,"month":5,"date":1,"utc":true},{"year":2021,"month":6,"date":1,"utc":true},{"year":2021,"month":7,"date":1,"utc":true},{"year":2021,"month":8,"date":1,"utc":true}],
                 "grid": true, "gridColor": "#e6e3df", "gridWidth": 2, "labels": false, "ticks": false, "domain": false, "title": null, "zindex": 0}},
  "x2": {"datum": {"year":2021,"month":8,"date":22,"utc":true}},
  "y": {"datum": 30, "type": "quantitative", "scale": {"domain": [23.6, 95], "zero": false, "nice": false},
        "axis": {"orient": "left", "values": [25, 50, 75], "grid": true, "gridColor": "#e6e3df", "gridWidth": 2, "labels": false, "ticks": false, "domain": false, "title": null, "zindex": 0}},
  "y2": {"datum": 70}
 }},
{"data": {"values": [{}]}, "mark": {"type": "rule", "stroke": "#b6adad", "strokeWidth": 2, "strokeDash": [10, 6]},
 "encoding": {"x": {"datum": {"year":2020,"month":6,"date":6,"hours":19,"minutes":40,"utc":true}, "type": "temporal", "axis": null}, "x2": {"datum": {"year":2021,"month":8,"date":22,"utc":true}}, "y": {"datum": 70, "type": "quantitative", "axis": null}}},
{"data": {"values": [{}]}, "mark": {"type": "rule", "stroke": "#b6adad", "strokeWidth": 2, "strokeDash": [10, 6]},
 "encoding": {"x": {"datum": {"year":2020,"month":6,"date":6,"hours":19,"minutes":40,"utc":true}, "type": "temporal", "axis": null}, "x2": {"datum": {"year":2021,"month":8,"date":22,"utc":true}}, "y": {"datum": 30, "type": "quantitative", "axis": null}}},
{"data": {"values": [{}]}, "mark": {"type": "rule", "stroke": "#ccbfd6", "strokeWidth": 2, "strokeDash": [10, 6]},
 "encoding": {"x": {"datum": {"year":2020,"month":6,"date":6,"hours":19,"minutes":40,"utc":true}, "type": "temporal", "axis": null}, "x2": {"datum": {"year":2021,"month":8,"date":22,"utc":true}}, "y": {"datum": 50, "type": "quantitative", "axis": null}}},
{"data": {"name": "c"}, "mark": {"type": "line", "clip": true, "color": "#9c27b0", "strokeWidth": 2.4},
 "encoding": {"x": {"field": "d", "type": "temporal", "axis": null}, "y": {"field": "r", "type": "quantitative", "axis": null}}},
{"data": {"values": [{}]}, "mark": {"type": "rect", "fill": "#f2dfcf"},
 "encoding": {"x": {"datum": {"year":2021,"month":8,"date":22,"utc":true}, "type": "temporal", "axis": null}, "x2": {"datum": {"year":2021,"month":9,"date":19,"hours":14,"utc":true}},
  "y": {"datum": 23.6, "type": "quantitative",
        "axis": {"orient": "right", "offset": -163, "values": [25, 50, 75], "format": ".2f", "grid": false, "ticks": true, "tickSize": 8, "tickWidth": 2, "tickColor": "#555555", "domain": true, "domainColor": "#555555", "domainWidth": 2, "labelFont": "DejaVu Sans", "labelFontSize": 18, "labelColor": "#4d4d4d", "labelPadding": 10, "labelOverlap": false, "title": null, "zindex": 1}},
  "y2": {"datum": 95}}},
{"data": {"values": [{}]}, "mark": {"type": "text", "text": "RSI (14, close)", "align": "left", "baseline": "middle", "font": "Liberation Sans", "fontSize": 23, "color": "#555555"},
 "encoding": {"x": {"datum": {"year":2020,"month":6,"date":9,"hours":19,"utc":true}, "type": "temporal", "axis": null}, "y": {"datum": 81.9, "type": "quantitative", "axis": null}}}
]
},
{
"width": 2668, "height": 1164,
"resolve": {"axis": {"y": "independent"}},
"layer": [
{"data": {"name": "c"}, "mark": {"type": "rule", "stroke": "#7a7a7a", "strokeWidth": 1.5},
 "encoding": {
  "x": {"field": "d", "type": "temporal",
        "scale": {"type": "utc", "domain": [{"year":2020,"month":6,"date":6,"hours":19,"minutes":40,"utc":true},{"year":2021,"month":9,"date":19,"hours":14,"utc":true}]},
        "axis": {"orient": "bottom", "values": [{"year":2020,"month":7,"date":1,"utc":true},{"year":2020,"month":8,"date":1,"utc":true},{"year":2020,"month":9,"date":1,"utc":true},{"year":2020,"month":10,"date":1,"utc":true},{"year":2020,"month":11,"date":1,"utc":true},{"year":2020,"month":12,"date":1,"utc":true},{"year":2021,"month":1,"date":1,"utc":true},{"year":2021,"month":2,"date":1,"utc":true},{"year":2021,"month":3,"date":1,"utc":true},{"year":2021,"month":4,"date":1,"utc":true},{"year":2021,"month":5,"date":1,"utc":true},{"year":2021,"month":6,"date":1,"utc":true},{"year":2021,"month":7,"date":1,"utc":true},{"year":2021,"month":8,"date":1,"utc":true}],
                 "grid": true, "gridColor": "#e6e3df", "gridWidth": 2, "labels": false, "ticks": false, "domain": false, "title": null, "zindex": 0}},
  "y": {"field": "l", "type": "quantitative", "scale": {"type": "log", "domain": [222, 55000], "nice": false},
        "axis": {"orient": "left", "values": [295,395,535,710,950,1350,1850,2650,3650,4900,6500,8500,11500,15500,21500,29500,39500,52000], "grid": true, "gridColor": "#e6e3df", "gridWidth": 2, "labels": false, "ticks": false, "domain": false, "title": null, "zindex": 0}},
  "y2": {"field": "h"}
 }},
{"data": {"name": "c"}, "mark": {"type": "bar", "size": 4, "strokeWidth": 1.5, "orient": "vertical"},
 "encoding": {
  "x": {"field": "d", "type": "temporal", "axis": null},
  "y": {"field": "o", "type": "quantitative", "axis": null},
  "y2": {"field": "c"},
  "fill": {"condition": {"test": "datum.c >= datum.o", "value": "#5aa07a"}, "value": "#dc4c3a"},
  "stroke": {"condition": {"test": "datum.c >= datum.o", "value": "#1f5d3a"}, "value": "#6d1b15"}
 }},
{"data": {"values": [{}]}, "mark": {"type": "rule", "stroke": "#e0533f", "strokeWidth": 2, "strokeDash": [3, 6]},
 "encoding": {"x": {"datum": {"year":2020,"month":6,"date":6,"hours":19,"minutes":40,"utc":true}, "type": "temporal", "axis": null}, "x2": {"datum": {"year":2021,"month":7,"date":22,"hours":2,"utc":true}}, "y": {"datum": 11035.1157, "type": "quantitative", "axis": null}}},
{"data": {"values": [{}]}, "mark": {"type": "rect", "fill": "#f2dfcf"},
 "encoding": {"x": {"datum": {"year":2021,"month":8,"date":22,"utc":true}, "type": "temporal", "axis": null}, "x2": {"datum": {"year":2021,"month":9,"date":19,"hours":14,"utc":true}},
  "y": {"datum": 222, "type": "quantitative",
        "axis": {"orient": "right", "offset": -163, "values": [295,395,535,710,950,1350,1850,2650,3650,4900,6500,8500,15500,21500,29500,39500,52000], "labelExpr": "datum.value == 52000 ? '' : format(datum.value, '.4f')", "grid": false, "ticks": true, "tickSize": 8, "tickWidth": 2, "tickColor": "#555555", "domain": true, "domainColor": "#555555", "domainWidth": 2, "labelFont": "DejaVu Sans", "labelFontSize": 18, "labelColor": "#4d4d4d", "labelPadding": 10, "labelOverlap": false, "title": null, "zindex": 1}},
  "y2": {"datum": 55000}}},
{"data": {"values": [{}]}, "mark": {"type": "text", "text": "52000.0000", "align": "left", "baseline": "middle", "font": "DejaVu Sans", "fontSize": 18, "color": "#4d4d4d"},
 "encoding": {"x": {"datum": {"year":2021,"month":8,"date":25,"hours":10,"utc":true}, "type": "temporal", "axis": null}, "y": {"datum": 52000, "type": "quantitative", "axis": null}}},
{"data": {"values": [{}]}, "mark": {"type": "rect", "fill": "#f2dfcf", "stroke": "#c8d0dc", "strokeWidth": 2, "cornerRadius": 6},
 "encoding": {"x": {"datum": {"year":2021,"month":8,"date":31,"hours":10,"utc":true}, "type": "temporal", "axis": null}, "x2": {"datum": {"year":2021,"month":9,"date":9,"hours":22,"utc":true}}, "y": {"datum": 49400, "type": "quantitative", "axis": null}, "y2": {"datum": 42300}}},
{"data": {"values": [{}]}, "mark": {"type": "text", "text": "USD", "align": "center", "baseline": "middle", "font": "DejaVu Sans", "fontSize": 18, "color": "#4d4d4d"},
 "encoding": {"x": {"datum": {"year":2021,"month":9,"date":5,"hours":4,"utc":true}, "type": "temporal", "axis": null}, "y": {"datum": 45700, "type": "quantitative", "axis": null}}},
{"data": {"values": [{}]}, "mark": {"type": "rect", "fill": "#d9503e", "cornerRadius": 3},
 "encoding": {"x": {"datum": {"year":2021,"month":7,"date":22,"hours":2,"utc":true}, "type": "temporal", "axis": null}, "x2": {"datum": {"year":2021,"month":8,"date":21,"hours":9,"utc":true}}, "y": {"datum": 11730, "type": "quantitative", "axis": null}, "y2": {"datum": 10140}}},
{"data": {"values": [{}]}, "mark": {"type": "text", "text": "BTCUSDSHORTS", "align": "center", "baseline": "middle", "font": "Liberation Sans", "fontSize": 20, "color": "#ffffff"},
 "encoding": {"x": {"datum": {"year":2021,"month":8,"date":6,"hours":0,"utc":true}, "type": "temporal", "axis": null}, "y": {"datum": 10900, "type": "quantitative", "axis": null}}},
{"data": {"values": [{}]}, "mark": {"type": "rect", "fill": "#d9503e", "cornerRadius": 3},
 "encoding": {"x": {"datum": {"year":2021,"month":8,"date":22,"utc":true}, "type": "temporal", "axis": null}, "x2": {"datum": {"year":2021,"month":9,"date":15,"hours":17,"utc":true}}, "y": {"datum": 11730, "type": "quantitative", "axis": null}, "y2": {"datum": 8980}}},
{"data": {"values": [{}]}, "mark": {"type": "text", "text": "11035.1157", "align": "left", "baseline": "middle", "font": "DejaVu Sans", "fontSize": 18, "color": "#ffffff"},
 "encoding": {"x": {"datum": {"year":2021,"month":8,"date":25,"hours":7,"utc":true}, "type": "temporal", "axis": null}, "y": {"datum": 11000, "type": "quantitative", "axis": null}}},
{"data": {"values": [{}]}, "mark": {"type": "text", "text": "11:34:15", "align": "left", "baseline": "middle", "font": "DejaVu Sans", "fontSize": 18, "color": "#f6cfc7"},
 "encoding": {"x": {"datum": {"year":2021,"month":8,"date":25,"hours":7,"utc":true}, "type": "temporal", "axis": null}, "y": {"datum": 9600, "type": "quantitative", "axis": null}}},
{"data": {"values": [{}]}, "mark": {"type": "text", "text": "BTCUSD Shorts, 1D, BITFINEX", "align": "left", "baseline": "middle", "font": "Liberation Sans", "fontSize": 23, "fontWeight": "bold", "color": "#4d4d4d"},
 "encoding": {"x": {"datum": {"year":2020,"month":6,"date":9,"hours":6,"utc":true}, "type": "temporal", "axis": null}, "y": {"datum": 47300, "type": "quantitative", "axis": null}}},
{"data": {"values": [{}]}, "mark": {"type": "text", "text": "Vol: The data vendor doesn't provide volume data for this symbol.", "align": "left", "baseline": "middle", "font": "Liberation Sans", "fontSize": 23, "color": "#555555"},
 "encoding": {"x": {"datum": {"year":2020,"month":6,"date":9,"hours":6,"utc":true}, "type": "temporal", "axis": null}, "y": {"datum": 40050, "type": "quantitative", "axis": null}}}
]
},
{
"width": 2668, "height": 52,
"data": {"values": [{}]},
"mark": {"type": "rule", "stroke": "#555555", "strokeWidth": 2},
"encoding": {
 "x": {"datum": {"year":2021,"month":8,"date":22,"utc":true}, "type": "temporal",
       "scale": {"type": "utc", "domain": [{"year":2020,"month":6,"date":6,"hours":19,"minutes":40,"utc":true},{"year":2021,"month":9,"date":19,"hours":14,"utc":true}]},
       "axis": {"orient": "bottom", "offset": -52, "values": [{"year":2020,"month":7,"date":1,"utc":true},{"year":2020,"month":8,"date":1,"utc":true},{"year":2020,"month":9,"date":1,"utc":true},{"year":2020,"month":10,"date":1,"utc":true},{"year":2020,"month":11,"date":1,"utc":true},{"year":2020,"month":12,"date":1,"utc":true},{"year":2021,"month":1,"date":1,"utc":true},{"year":2021,"month":2,"date":1,"utc":true},{"year":2021,"month":3,"date":1,"utc":true},{"year":2021,"month":4,"date":1,"utc":true},{"year":2021,"month":5,"date":1,"utc":true},{"year":2021,"month":6,"date":1,"utc":true},{"year":2021,"month":7,"date":1,"utc":true},{"year":2021,"month":8,"date":1,"utc":true}],
                "labelExpr": "utcmonth(datum.value) == 0 ? utcFormat(datum.value, '%Y') : utcFormat(datum.value, '%b')",
                "labelFontWeight": {"condition": {"test": "utcmonth(datum.value) == 0", "value": "bold"}, "value": "normal"},
                "grid": false, "domain": false, "ticks": true, "tickSize": 8, "tickWidth": 2, "tickColor": "#555555",
                "labelFont": "DejaVu Sans", "labelFontSize": 18, "labelColor": "#4d4d4d", "labelPadding": 10, "labelFlush": false, "labelOverlap": false, "title": null, "zindex": 1}}
}
},
{
"width": 2668, "height": 78,
"view": {"stroke": null, "fill": null},
"data": {"values": [{}]},
"layer": [
{"mark": {"type": "text", "text": "☁", "align": "left", "baseline": "middle", "font": "DejaVu Sans", "fontSize": 44, "color": "#2962ff"},
 "encoding": {"x": {"datum": {"year":2020,"month":6,"date":7,"hours":6,"utc":true}, "type": "temporal",
   "scale": {"type": "utc", "domain": [{"year":2020,"month":6,"date":6,"hours":19,"minutes":40,"utc":true},{"year":2021,"month":9,"date":19,"hours":14,"utc":true}]}, "axis": null}}},
{"mark": {"type": "text", "text": "TradingView", "align": "left", "baseline": "middle", "font": "Liberation Sans", "fontSize": 25, "color": "#131722"},
 "encoding": {"x": {"datum": {"year":2020,"month":6,"date":16,"hours":6,"utc":true}, "type": "temporal", "axis": null}}}
]
}
]
}
